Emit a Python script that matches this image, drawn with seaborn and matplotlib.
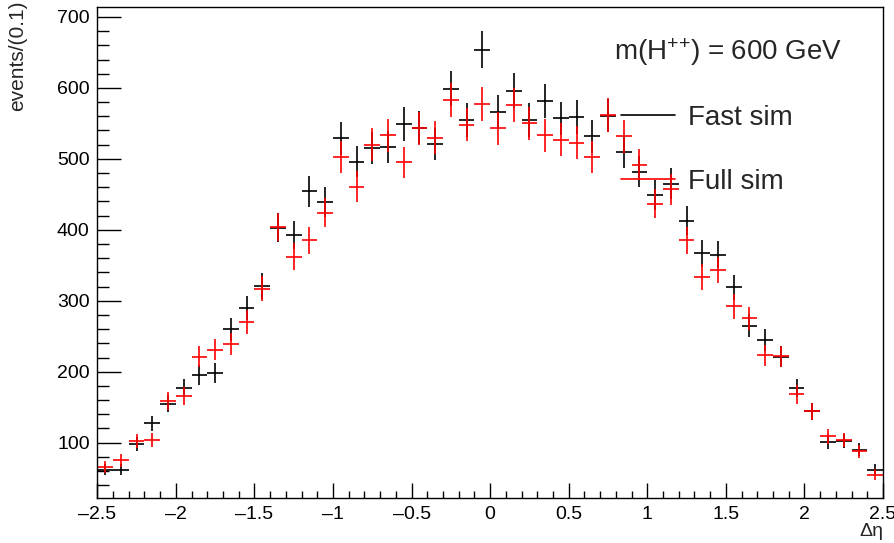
import numpy as np
import pandas as pd
import matplotlib
matplotlib.use("Agg")
import matplotlib.pyplot as plt
from matplotlib.lines import Line2D
from matplotlib.ticker import MultipleLocator, FuncFormatter
import seaborn as sns

# --- binning: 50 bins of 0.1 in delta eta ---
eta_edges = np.linspace(-2.5, 2.5, 51)
eta_centers = 0.5 * (eta_edges[:-1] + eta_edges[1:])
half_bin = 0.05

# --- events per bin ---
fast_sim = [62, 62, 98, 127, 155, 177, 195, 198, 260, 290,
            321, 403, 393, 454, 439, 529, 496, 515, 517, 549,
            544, 521, 599, 555, 654, 566, 596, 555, 581, 557,
            559, 532, 561, 510, 482, 449, 465, 413, 367, 365,
            319, 265, 245, 221, 177, 144, 101, 102, 90, 62]
full_sim = [66, 75, 102, 104, 159, 166, 221, 231, 239, 270,
            317, 404, 362, 385, 424, 503, 461, 520, 533, 495,
            543, 530, 583, 548, 577, 543, 576, 550, 533, 527,
            523, 503, 562, 532, 492, 437, 457, 385, 333, 343,
            292, 275, 223, 222, 168, 144, 109, 104, 88, 55]

sample_names = ["Fast sim", "Full sim"]
sample_colors = {"Fast sim": "black", "Full sim": "#ff0000"}

df = pd.concat([
    pd.DataFrame({"eta": eta_centers, "events": fast_sim, "sample": "Fast sim"}),
    pd.DataFrame({"eta": eta_centers, "events": full_sim, "sample": "Full sim"}),
])
df["err"] = np.sqrt(df["events"])

# --- style ---
sns.set_theme(style="ticks")
plt.rcParams["font.family"] = ["Liberation Sans", "DejaVu Sans"]
plt.rcParams["mathtext.fontset"] = "custom"
plt.rcParams["mathtext.rm"] = "Liberation Sans"
plt.rcParams["mathtext.it"] = "Liberation Sans:italic"

fig = plt.figure(figsize=(8.95, 5.43), dpi=100)
ax = fig.add_axes([97.3 / 895, 45 / 543, 785.7 / 895, 491 / 543])

for name in sample_names:
    sub = df[df["sample"] == name]
    ax.errorbar(sub["eta"], sub["events"], xerr=half_bin, yerr=sub["err"],
                fmt="none", ecolor=sample_colors[name], elinewidth=1.2, capsize=0)

ax.set_xlim(-2.5, 2.5)
ax.set_ylim(22, 714)

ax.xaxis.set_major_locator(MultipleLocator(0.5))
ax.xaxis.set_minor_locator(MultipleLocator(0.1))
ax.yaxis.set_major_locator(MultipleLocator(100))
ax.yaxis.set_minor_locator(MultipleLocator(20))
ax.xaxis.set_major_formatter(FuncFormatter(lambda v, p: ("%g" % v).replace("-", "\u2013")))
ax.set_yticks([100, 200, 300, 400, 500, 600, 700])

ax.tick_params(axis="both", which="both", direction="in", top=False, right=False,
               labelsize=14, width=1, color="black", labelcolor="black")
ax.tick_params(axis="x", which="major", length=10.8, pad=5.5)
ax.tick_params(axis="x", which="minor", length=5.4)
ax.tick_params(axis="y", which="major", length=17.3, pad=5.5)
ax.tick_params(axis="y", which="minor", length=8.6)
for sp in ax.spines.values():
    sp.set_linewidth(1.0)
    sp.set_color("black")

ax.set_ylabel("events/(0.1)", fontsize=15, loc="top")
ax.yaxis.label.set_va("center")
ax.yaxis.set_label_coords(-0.101, 1.013)
ax.set_xlabel("\u0394\u03b7", fontsize=14, loc="right")
ax.xaxis.label.set_va("top")
ax.xaxis.set_label_coords(1.0, -0.05)

ax.text(0.658, 0.892, "m(H$^{{+}{+}}$) = 600 GeV", transform=ax.transAxes,
        fontsize=20, ha="left", va="baseline")

handles = [Line2D([], [], color=sample_colors[n], lw=1.2) for n in sample_names]
ax.legend(handles, sample_names, loc="upper left", bbox_to_anchor=(0.666, 0.800),
          frameon=False, fontsize=20, borderpad=0, borderaxespad=0,
          handlelength=1.95, handletextpad=0.48, labelspacing=1.35)

fig.savefig("out.png", dpi=100)
